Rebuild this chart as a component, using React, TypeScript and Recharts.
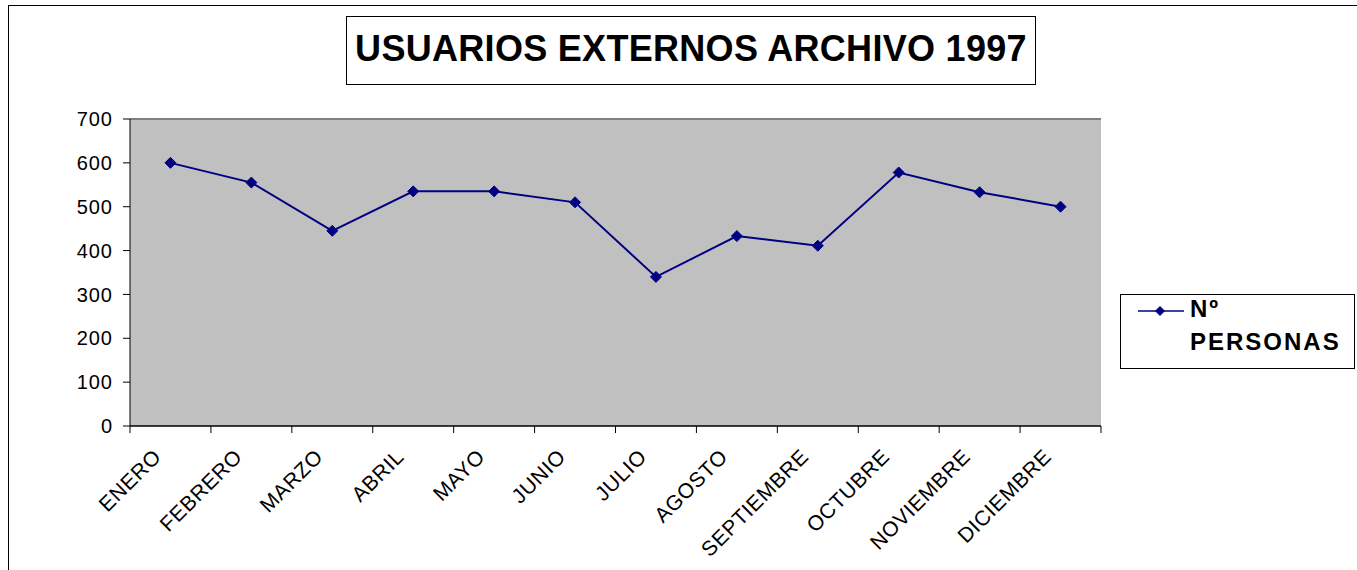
import React from 'react';
import {
  LineChart,
  Line,
  XAxis,
  YAxis,
  CartesianGrid,
  ReferenceLine,
  Legend,
} from 'recharts';

const meses = [
  'ENERO',
  'FEBRERO',
  'MARZO',
  'ABRIL',
  'MAYO',
  'JUNIO',
  'JULIO',
  'AGOSTO',
  'SEPTIEMBRE',
  'OCTUBRE',
  'NOVIEMBRE',
  'DICIEMBRE',
];
const personas = [600, 555, 445, 535, 535, 510, 340, 433, 411, 578, 533, 500];
const yTicks = [0, 100, 200, 300, 400, 500, 600, 700];
const seriesName = 'Nº PERSONAS';
const title = 'USUARIOS EXTERNOS ARCHIVO 1997';

const data = meses.map((mes, i) => ({ mes, personas: personas[i] }));

const FONT = '"Liberation Sans", Arial, sans-serif';
const NAVY = '#000080';

const CHART_W = 1349;
const CHART_H = 565;
const MARGIN = { top: 114, right: 256, bottom: 44, left: 62 };
const Y_AXIS_W = 60;
const PLOT_W = CHART_W - MARGIN.left - MARGIN.right - Y_AXIS_W;
const BAND = PLOT_W / meses.length;

function Diamond({ cx, cy, r = 5.5 }: { cx: number; cy: number; r?: number }) {
  return (
    <polygon
      points={`${cx},${cy - r} ${cx + r},${cy} ${cx},${cy + r} ${cx - r},${cy}`}
      fill={NAVY}
      stroke={NAVY}
      strokeWidth={1}
    />
  );
}

function MonthTick(props: any) {
  const { x, y, payload, index } = props;
  const half = BAND / 2;
  return (
    <g>
      <line x1={x - half} y1={y} x2={x - half} y2={y + 7} stroke="#000" />
      {index === meses.length - 1 && (
        <line x1={x + half} y1={y} x2={x + half} y2={y + 7} stroke="#000" />
      )}
      <text
        transform={`translate(${x - 8},${y + 32}) rotate(-45)`}
        textAnchor="end"
        fontSize={21}
        letterSpacing={0.6}
        fontFamily={FONT}
        fill="#000"
      >
        {payload.value}
      </text>
    </g>
  );
}

function LegendBox(props: any) {
  const item = props.payload?.[0];
  const [first, ...rest] = String(item?.value ?? seriesName).split(' ');
  return (
    <div
      style={{
        width: 235,
        height: 75,
        boxSizing: 'border-box',
        border: '1px solid #000',
        background: '#fff',
      }}
    >
      <svg width={233} height={73}>
        <line x1={17} y1={16} x2={63} y2={16} stroke={NAVY} strokeWidth={1.5} />
        <Diamond cx={39} cy={16} r={4.5} />
        <text
          x={69}
          y={22}
          fontSize={24}
          fontWeight="bold"
          fontFamily={FONT}
          letterSpacing={2}
        >
          {first}
        </text>
        <text
          x={69}
          y={55}
          fontSize={24}
          fontWeight="bold"
          fontFamily={FONT}
          letterSpacing={2}
        >
          {rest.join(' ')}
        </text>
      </svg>
    </div>
  );
}

export default function App() {
  return (
    <div
      style={{
        position: 'absolute',
        left: 8,
        top: 5,
        width: CHART_W,
        height: CHART_H,
        background: '#fff',
        fontFamily: FONT,
      }}
    >
      <div
        style={{
          position: 'absolute',
          inset: 0,
          borderLeft: '1px solid #000',
          borderTop: '1px solid #000',
          pointerEvents: 'none',
        }}
      />
      <div
        style={{
          position: 'absolute',
          left: 338,
          top: 11,
          width: 690,
          height: 69,
          boxSizing: 'border-box',
          border: '1.5px solid #000',
          textAlign: 'center',
          lineHeight: '64px',
          fontSize: 36,
          letterSpacing: 0.3,
          fontWeight: 'bold',
          color: '#000',
        }}
      >
        {title}
      </div>
      <LineChart width={CHART_W} height={CHART_H} data={data} margin={MARGIN}>
        <CartesianGrid fill="#C0C0C0" stroke="#000" vertical={false} />
        <XAxis
          dataKey="mes"
          scale="band"
          tickLine={false}
          tickSize={0}
          tickMargin={0}
          height={100}
          axisLine={{ stroke: '#000' }}
          tick={<MonthTick />}
          interval={0}
        />
        <YAxis
          yAxisId="left"
          domain={[0, 700]}
          ticks={yTicks}
          width={Y_AXIS_W}
          tickSize={7}
          tickMargin={10}
          axisLine={{ stroke: '#000' }}
          tickLine={{ stroke: '#000' }}
          tick={{ fontSize: 20, fill: '#000', fontFamily: FONT, letterSpacing: 1 }}
        />
        <YAxis
          yAxisId="right"
          orientation="right"
          domain={[0, 700]}
          width={0}
          tick={false}
          tickLine={false}
          axisLine={{ stroke: '#808080', strokeWidth: 2 }}
        />
        <ReferenceLine yAxisId="left" y={700} stroke="#808080" strokeWidth={2} />
        <Legend
          content={<LegendBox />}
          wrapperStyle={{ left: 1112, top: 289, width: 0, height: 0, overflow: 'visible' }}
        />
        <Line
          yAxisId="left"
          type="linear"
          dataKey="personas"
          name={seriesName}
          stroke={NAVY}
          strokeWidth={2}
          isAnimationActive={false}
          dot={(p: any) => <Diamond key={p.index} cx={p.cx} cy={p.cy} />}
          activeDot={false}
        />
      </LineChart>
    </div>
  );
}
